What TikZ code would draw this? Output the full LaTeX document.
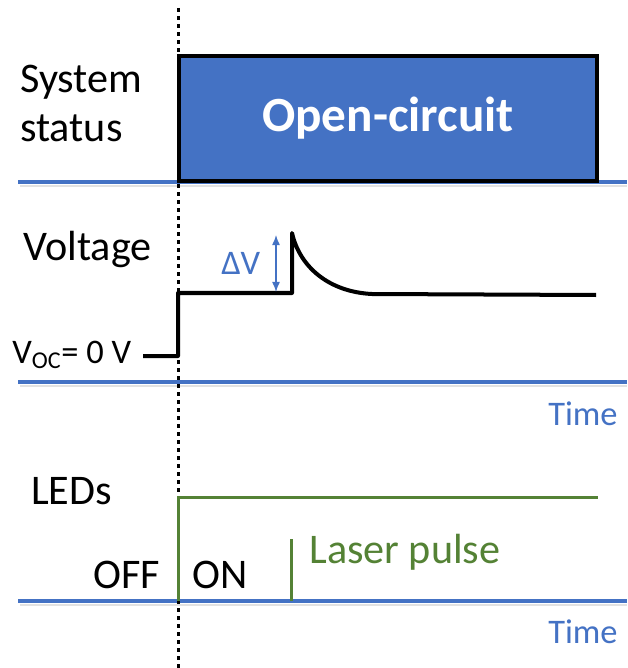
\documentclass[tikz,border=0pt]{standalone}
\usepackage{fontspec}
\setmainfont{Carlito}
\usetikzlibrary{arrows.meta,positioning}
\definecolor{Axis}{HTML}{4472C4}
\definecolor{Led}{HTML}{548235}
\definecolor{Shade}{HTML}{E2E2E2}

\begin{document}
\begin{tikzpicture}[x=0.025cm,y=-0.025cm,
    lbl/.style={anchor=base west,inner sep=0pt,font=\fontsize{30}{36}\selectfont},
    small/.style={anchor=base west,inner sep=0pt,font=\fontsize{24.5}{29}\selectfont,text=Axis},
    axis/.style={Axis,line width=0.09cm},
    trace/.style={line width=0.1cm,line join=round},
    ledline/.style={Led,line width=0.075cm},
    status/.style={draw=black,fill=Axis,line width=0.1cm,text=white,
      minimum width=10.45cm,minimum height=3.125cm,
      font=\bfseries\fontsize{35}{40}\selectfont}
  ]
    \useasboundingbox (0,0) rectangle (627,668);
    % time axes
    \foreach \y in {182,382,601}{
      \draw[Shade,line width=0.07cm] (20,\y+4) -- (627,\y+4);
      \draw[axis] (18,\y) -- (627,\y);}
    \draw[line width=0.075cm,dash pattern=on 0.1cm off 0.1cm] (178,8) -- (178,668);
    % labels
    \node[lbl] (sys) at (20,93) {System};
    \node[lbl] (stat) at (20,142) {status};
    \node[lbl] (volt) at (23,260) {Voltage};
    \node[lbl,font=\fontsize{24.5}{29}\selectfont] (voc) at (12,363) {V\textsubscript{OC}= 0 V};
    \node[lbl] (leds) at (31,504) {LEDs};
    \node[lbl] (off) at (93,588) {OFF};
    \node[lbl] (on) at (192,588) {ON};
    \node[lbl,text=Led] (laser) at (309,563) {Laser pulse};
    \node[small] (dv) at (221,274) {ΔV};
    \node[small] (t1) at (548,425) {Time};
    \node[small] (t2) at (548,643) {Time};
    \node[status] (oc) at (388,118.5) {Open-circuit};
    % voltage
    \coordinate (v0) at (143,356);
    \coordinate (vpk) at (292,233);
    \coordinate (vend) at (596,295);
    \draw[trace] (v0) -- (178,356) -- (178,293) -- (292,293) -- (vpk)
      .. controls (300,268) and (330,292) .. (372,294) -- (vend);
    \coordinate (dvlo) at (276,292);
    \coordinate (dvhi) at (276,235);
    \draw[Axis,line width=0.035cm,{Latex[length=0.25cm,width=0.2cm]}-{Latex[length=0.25cm,width=0.2cm]}]
      (dvlo) -- (dvhi);
    % LEDs
    \draw[ledline] (178,601) -- (178,497) -- (598,497);
    \draw[ledline] (291,601) -- (291,539);
  \end{tikzpicture}
\end{document}
